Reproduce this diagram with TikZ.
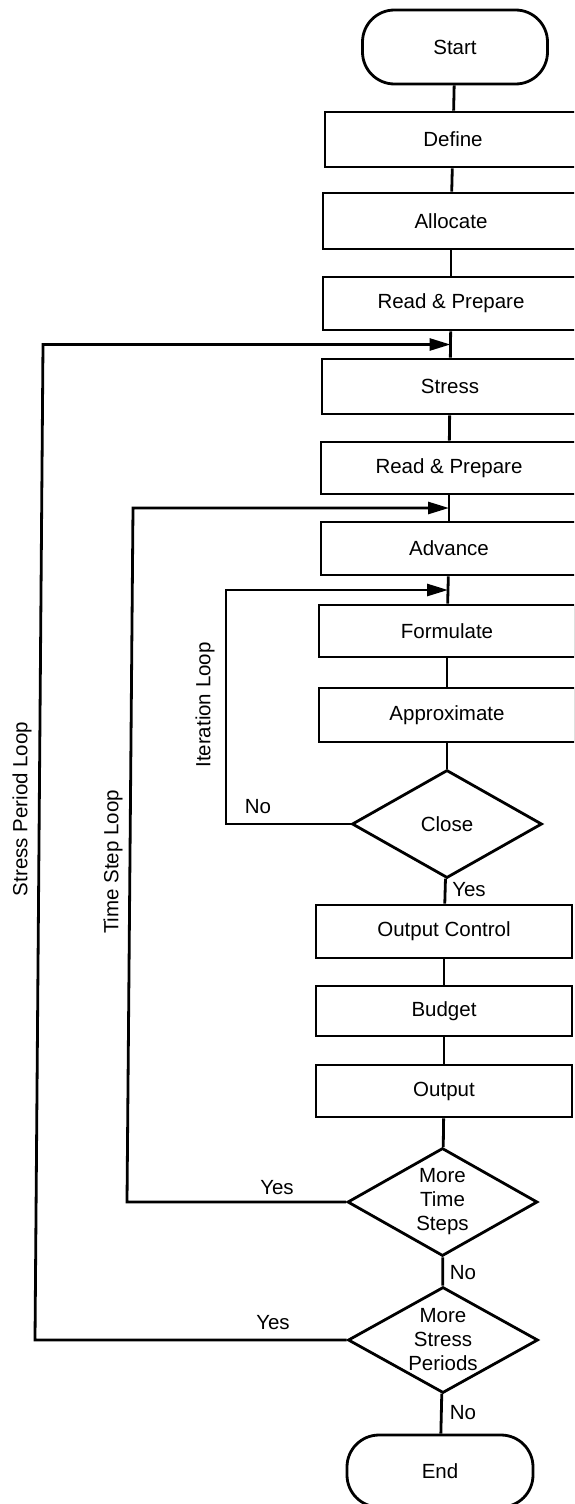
\documentclass[tikz,border=0pt]{standalone}
\usepackage{fontspec}
\setmainfont{Liberation Sans}
\usetikzlibrary{shapes.geometric,arrows.meta,calc}
\begin{document}
\begin{tikzpicture}[x=1pt,y=-1pt,
  every node/.style={font=\fontsize{20.5}{24}\selectfont},
  ln/.style={line width=2.8pt},
  proc/.style={draw,ln,rectangle,minimum width=256pt,minimum height=53pt,inner sep=0pt},
  term/.style={draw,ln,rectangle,rounded corners=32pt,minimum width=185pt,minimum height=74pt},
  dec/.style={draw,ln,diamond,aspect=1.76,minimum width=190pt,minimum height=108pt,inner sep=0pt,align=center},
  lab/.style={inner sep=0pt},
  arr/.style={ln,-{Triangle[length=21pt,width=12pt]}}
]
\useasboundingbox (0,0) rectangle (574,1504);
\clip (0,0) rectangle (574,1504);

% main column
\node[term] (start) at (455,47) {Start};
\node[proc,minimum height=55pt] (define) at (453,139.5) {Define};
\node[proc,minimum height=56pt] (alloc) at (451,221) {Allocate};
\node[proc] (rp1) at (451,303.5) {Read \& Prepare};
\node[proc,minimum height=55pt] (stress) at (450,386.5) {Stress};
\node[proc,minimum height=52pt] (rp2) at (449,468) {Read \& Prepare};
\node[proc] (adv) at (449,548.5) {Advance};
\node[proc,minimum height=52pt] (form) at (447,631) {Formulate};
\node[proc,minimum height=54pt] (approx) at (447,715) {Approximate};
\node[dec] (close) at (447,824) {Close};
\node[proc] (outc) at (444,931.5) {Output Control};
\node[proc,minimum height=50pt] (budget) at (444,1011) {Budget};
\node[proc,minimum height=52pt] (output) at (444,1091) {Output};
\node[dec] (tsd) at (442.5,1202) {More\\Time\\Steps};
\node[dec,minimum height=106pt] (spd) at (443,1340) {More\\Stress\\Periods};
\node[term,minimum width=186pt,minimum height=72pt] (end) at (440,1471) {End};

% straight connectors
\draw[ln] (start) -- (define);
\draw[ln] (define) -- (alloc);
\draw[ln] (alloc) -- (rp1);
\draw[ln] (rp1) -- (stress);
\draw[ln] (stress) -- (rp2);
\draw[ln] (rp2) -- (adv);
\draw[ln] (adv) -- (form);
\draw[ln] (form) -- (approx);
\draw[ln] (approx) -- (close);
\draw[ln] (close) -- (outc);
\draw[ln] (outc) -- (budget);
\draw[ln] (budget) -- (output);
\draw[ln] (output) -- (tsd);
\draw[ln] (tsd) -- (spd);
\draw[ln] (spd) -- (end);

% arrow targets on the main line
\coordinate (sptip) at ($(rp1.south)!0.5!(stress.north)$);
\coordinate (tstip) at ($(rp2.south)!0.5!(adv.north)$);
\coordinate (ittip) at ($(adv.south)!0.5!(form.north)$);
\coordinate (itx) at (226,0);
\coordinate (tsxb) at (127,0);
\coordinate (tsxt) at (133,0);
\coordinate (spxb) at (35,0);
\coordinate (spxt) at (43,0);

% loops
\draw[arr] (close.west) -- (close.west -| itx) -- (ittip -| itx) -- (ittip);
\draw[arr] (tsd.west) -- (tsd.west -| tsxb) -- (tstip -| tsxt) -- (tstip);
\draw[arr] (spd.west) -- (spd.west -| spxb) -- (sptip -| spxt) -- (sptip);

% labels
\node[lab] (lno1) at (258,807) {No};
\node[lab] (lyes1) at (469,890) {Yes};
\node[lab] (lyes2) at (277,1188) {Yes};
\node[lab] (lno2) at (463,1273) {No};
\node[lab] (lyes3) at (273,1323) {Yes};
\node[lab] (lno3) at (463,1413) {No};
\node[lab,rotate=90] (lit) at (205,705) {Iteration Loop};
\node[lab,rotate=90] (lts) at (113,862) {Time Step Loop};
\node[lab,rotate=90] (lsp) at (22,809) {Stress Period Loop};
\end{tikzpicture}
\end{document}
